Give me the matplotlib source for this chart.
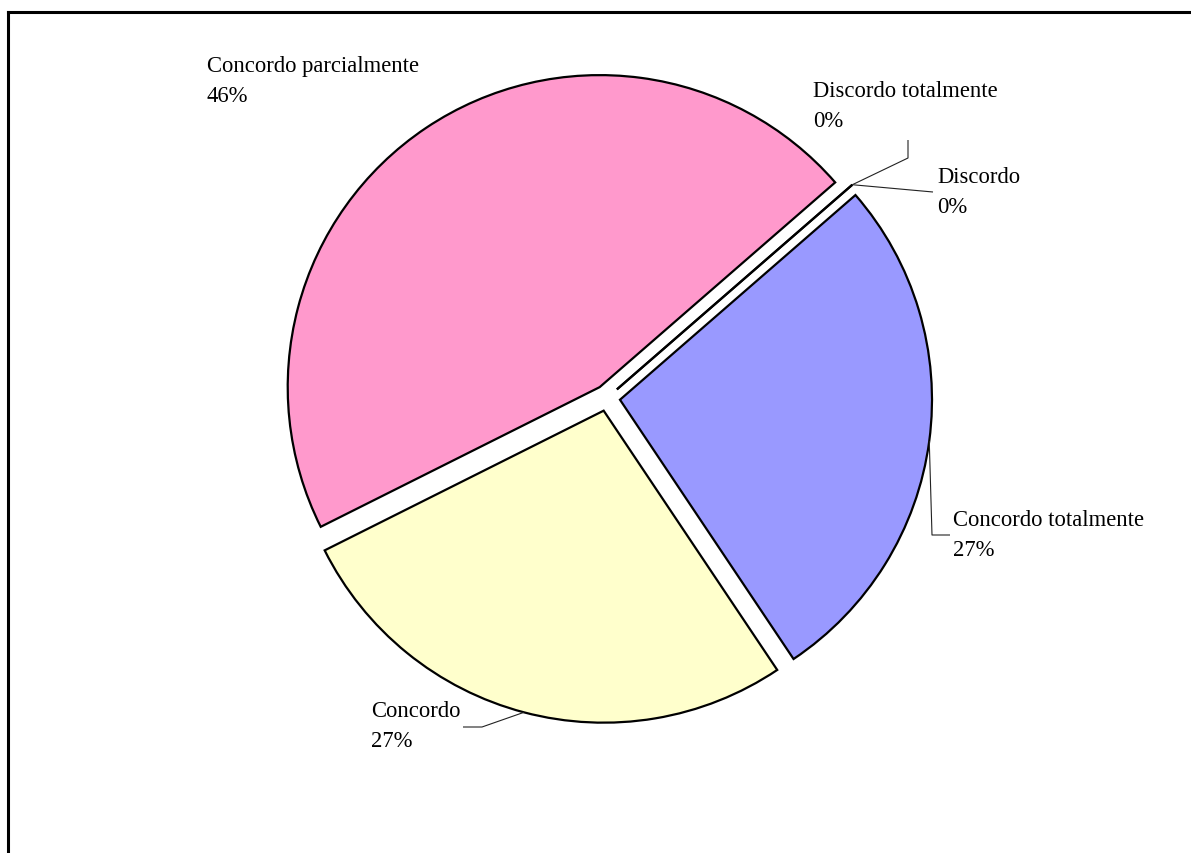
import matplotlib.pyplot as plt
import numpy as np
from matplotlib.lines import Line2D

# Survey answers (share of respondents, %)
labels = ['Concordo totalmente', 'Concordo', 'Concordo parcialmente',
          'Discordo', 'Discordo totalmente']
values = [27, 27, 46, 0, 0]
colors = ['#9999FF', '#FFFFCC', '#FF99CC', '#FFFFFF', '#FFFFFF']

plt.rcParams['font.family'] = ['Liberation Serif', 'DejaVu Serif']

W, H = 1191, 854
cx, cy, rpx = 607, 399, 312   # pie centre and radius in pixels

fig = plt.figure(figsize=(W / 100, H / 100), dpi=100)
ax = fig.add_axes([0, 0, 1, 1])

wedges, _ = ax.pie(values, colors=colors, startangle=41, counterclock=False,
                   explode=[0.042] * len(values), radius=1.0,
                   wedgeprops=dict(edgecolor='black', linewidth=1.6))

ax.set_xlim(-cx / rpx, (W - cx) / rpx)
ax.set_ylim(-(H - cy) / rpx, cy / rpx)
ax.set_aspect('auto')
ax.axis('off')


def px(x, y):
    # pixel position (from top-left) -> data coordinates
    return (x - cx) / rpx, (cy - y) / rpx


def rim(w, frac=0.5):
    ang = np.deg2rad(w.theta1 + (w.theta2 - w.theta1) * frac)
    return w.center[0] + w.r * np.cos(ang), w.center[1] + w.r * np.sin(ang)


# label text: (x, baseline of first line) in pixels
text_pos = {
    'Concordo totalmente': (953, 526),
    'Concordo': (371, 717),
    'Concordo parcialmente': (207, 72),
    'Discordo': (937, 183),
    'Discordo totalmente': (813, 97),
}
# leader line bends in pixels
leaders = {
    'Concordo totalmente': [(932, 536), (950, 536)],
    'Concordo': [(482, 728), (463, 728)],
    'Discordo': [(933, 193)],
    'Discordo totalmente': [(908, 159), (908, 141)],
}

fs = 16.3
for w, lab, v in zip(wedges, labels, values):
    x, y = text_pos[lab]
    ax.text(*px(x, y), lab, fontsize=fs, ha='left', va='baseline')
    ax.text(*px(x, y + 30), f'{v}%', fontsize=fs, ha='left', va='baseline')
    if lab in leaders:
        pts = [rim(w)] + [px(*p) for p in leaders[lab]]
        xs, ys = zip(*pts)
        ax.plot(xs, ys, color='#222222', lw=0.8, solid_capstyle='butt')

# outer frame: top and left edges only
fx, fy = 7.7 / W, 1 - 12.5 / H
fig.add_artist(Line2D([fx, 1], [fy, fy], transform=fig.transFigure,
                      color='black', lw=2.2))
fig.add_artist(Line2D([fx, fx], [0, fy], transform=fig.transFigure,
                      color='black', lw=2.2))

fig.savefig('out.png', dpi=100, facecolor='white')
